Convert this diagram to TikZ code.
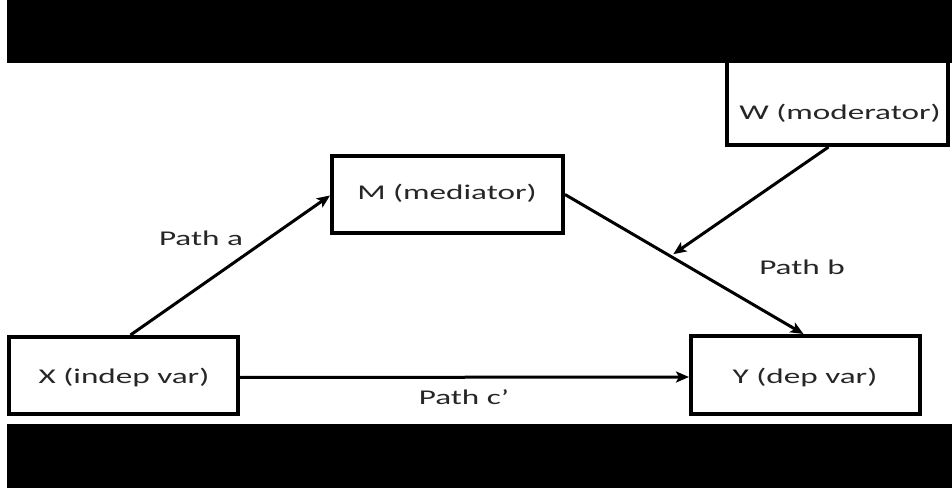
\documentclass[tikz,border=0pt]{standalone}
\usepackage{fontspec}
\setmainfont{Carlito}[FakeStretch=1.58]
\usetikzlibrary{arrows.meta,calc}

\begin{document}
\begin{tikzpicture}[x=1bp,y=-1bp,
  box/.style={draw, line width=4bp, inner sep=0pt, fill=white},
  conn/.style={line width=3bp, -{Stealth[length=13bp,width=11bp,inset=3bp]}},
  txt/.style={font=\fontsize{21bp}{25bp}\selectfont, text=black!85, inner sep=0pt}]

% page
\fill[white] (0,0) rectangle (952,488);
\useasboundingbox (0,0) rectangle (952,488);

% variables
\node[box, minimum width=229bp, minimum height=77bp] (X) at (123.5,375.5) {};
\node[txt] (Xt) at (124,378) {X (indep var)};
\node[box, minimum width=231bp, minimum height=77bp] (M) at (447.5,194.5) {};
\node[txt] (Mt) at (447,193) {M (mediator)};
\node[box, minimum width=229bp, minimum height=78bp] (Y) at (805.5,375) {};
\node[txt] (Yt) at (805,378) {Y (dep var)};
\node[box, minimum width=221bp, minimum height=95bp] (W) at (837.5,97.5) {};
\node[txt] (Wt) at (840,113) {W (moderator)};

% paths
\draw[conn] ($(X.north west)!0.53!(X.north east)$) -- ([yshift=-1bp]M.west);
\draw[conn] (M.east) -- ([xshift=-2bp]Y.north);
\coordinate (wb) at ($(M.east)!0.44!(Y.north)$);
\draw[conn, shorten >=3bp] ([xshift=-9bp]W.south) -- (wb);
\draw[conn] ([yshift=-2bp]X.east) -- ([yshift=-2bp]Y.west);

% path labels
\node[txt] (pa) at (201,238) {Path a};
\node[txt] (pb) at (802,267) {Path b};
\node[txt] (pc) at (464,397) {Path c’};

% letterbox bands
\fill[black] (7,0) rectangle (952,63);
\fill[black] (7,424) rectangle (952,488);
\end{tikzpicture}
\end{document}
